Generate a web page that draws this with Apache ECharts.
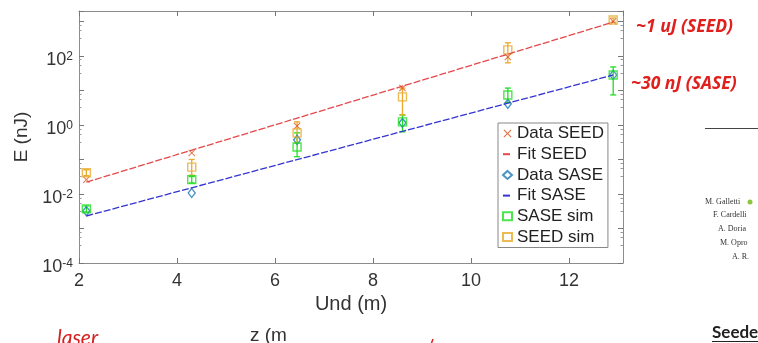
<!DOCTYPE html>
<html>
<head>
<meta charset="utf-8">
<script src="https://cdn.jsdelivr.net/npm/echarts@6/dist/echarts.min.js"></script>
<style>
  html, body { margin: 0; padding: 0; background: #fff; }
  #chart { width: 758px; height: 343px; }
</style>
</head>
<body>
<div id="chart"></div>
<script>
// undulator positions (m)
const zPos = [2.15, 4.3, 6.45, 8.6, 10.75, 12.9];
// measured energies (nJ)
const dataSeed = [0.026, 0.155, 0.93, 11.7, 93, 1000];
const dataSase = [0.0032, 0.0107, 0.37, 1.15, 4.1, 28];
// simulations with error bars
const saseSim = [0.0037, 0.026, 0.23, 1.23, 7.4, 28];
const saseSimLow = [0.003, 0.021, 0.12, 0.63, 4.4, 7.4];
const saseSimHigh = [0.0045, 0.032, 0.59, 1.95, 11.7, 48];
const seedSim = [0.041, 0.06, 0.59, 6.5, 150, 1100];
const seedSimLow = [0.034, 0.035, 0.30, 1.95, 63, 950];
const seedSimHigh = [0.05, 0.10, 1.23, 11.7, 240, 1250];
// exponential fits (end points)
const fitZ = [2.15, 12.9];
const fitSeed = [0.022, 950];
const fitSase = [0.0023, 28];

const legendNames = ['Data SEED', 'Fit SEED', 'Data SASE', 'Fit SASE', 'SASE sim', 'SEED sim'];

const C_XSEED = '#d95319';
const C_FITSEED = '#e5484a';
const C_DSASE = '#1f78b8';
const C_FITSASE = '#3434d0';
const C_SASESIM = '#1ee01e';
const C_SEEDSIM = '#e9aa2c';

const pairs = (xs, ys) => xs.map((x, i) => [x, ys[i]]);
const triples = (xs, lo, hi) => xs.map((x, i) => [x, lo[i], hi[i]]);

function errorBars(color) {
  return function (params, api) {
    const x = api.value(0);
    const lo = api.coord([x, api.value(1)]);
    const hi = api.coord([x, api.value(2)]);
    const cap = 3;
    const style = { stroke: color, lineWidth: 1.3 };
    return {
      type: 'group',
      children: [
        { type: 'line', shape: { x1: lo[0], y1: lo[1], x2: hi[0], y2: hi[1] }, style: style },
        { type: 'line', shape: { x1: lo[0] - cap, y1: lo[1], x2: lo[0] + cap, y2: lo[1] }, style: style },
        { type: 'line', shape: { x1: hi[0] - cap, y1: hi[1], x2: hi[0] + cap, y2: hi[1] }, style: style }
      ]
    };
  };
}

const crossPath = 'path://M0,1L1,0L5,4L9,0L10,1L6,5L10,9L9,10L5,6L1,10L0,9L4,5Z';

const axisGray = '#8c8c8c';
const labelColor = '#333';

// legend entries; the fit lines get no marker
const legendData = legendNames.map(function (n) {
  return n.indexOf('Fit') === 0 ? { name: n, itemStyle: { opacity: 0 } } : { name: n };
});

const chart = echarts.init(document.getElementById('chart'));

const option = {
  animation: false,
  backgroundColor: '#fff',
  textStyle: { fontFamily: 'Liberation Sans' },
  grid: { left: 79, top: 11, right: 135, bottom: 80 },
  legend: {
    data: legendData,
    orient: 'vertical',
    left: 498,
    top: 123,
    padding: [2, 4, 2, 4],
    itemGap: 3.7,
    itemWidth: 9,
    itemHeight: 8,
    backgroundColor: '#fff',
    borderColor: '#888',
    borderWidth: 1,
    borderRadius: 0,
    textStyle: { fontSize: 17, color: '#222', lineHeight: 17 }
  },
  xAxis: [
    {
      type: 'value',
      min: 2,
      max: 13.1,
      interval: 2,
      name: 'Und (m)',
      nameLocation: 'middle',
      nameGap: 31,
      nameTextStyle: { fontSize: 20, color: labelColor },
      axisLine: { onZero: false, lineStyle: { color: axisGray } },
      axisTick: { inside: true, length: 5, lineStyle: { color: '#777' } },
      axisLabel: { fontSize: 18, color: labelColor, margin: 9, showMaxLabel: false },
      splitLine: { show: false }
    },
    {
      type: 'value',
      position: 'top',
      min: 2,
      max: 13.1,
      interval: 2,
      axisLine: { onZero: false, lineStyle: { color: axisGray } },
      axisTick: { inside: true, length: 5, lineStyle: { color: '#777' } },
      axisLabel: { show: false },
      splitLine: { show: false }
    }
  ],
  yAxis: [
    {
      type: 'log',
      min: 0.0001,
      max: 2000,
      name: 'E (nJ)',
      nameLocation: 'middle',
      nameGap: 39,
      nameTextStyle: { fontSize: 19, color: labelColor },
      axisLine: { onZero: false, lineStyle: { color: axisGray } },
      axisTick: { inside: true, length: 5, lineStyle: { color: '#777' } },
      minorTick: { show: true, splitNumber: 4, length: 2.5, lineStyle: { color: '#999' } },
      axisLabel: {
        color: labelColor,
        margin: 6,
        padding: [8, 0, 0, 0],
        formatter: function (v) {
          const l = Math.log10(v);
          const e = Math.round(l);
          if (Math.abs(l - e) > 1e-6 || e % 2 !== 0) return '';
          return '{b|10}{sup|' + e + '}';
        },
        rich: {
          b: { fontSize: 18, lineHeight: 18, verticalAlign: 'top', color: labelColor },
          sup: { fontSize: 12, lineHeight: 12, verticalAlign: 'top', color: labelColor }
        }
      },
      splitLine: { show: false }
    },
    {
      type: 'log',
      position: 'right',
      min: 0.0001,
      max: 2000,
      axisLine: { onZero: false, lineStyle: { color: axisGray } },
      axisTick: { inside: true, length: 5, lineStyle: { color: '#777' } },
      minorTick: { show: true, splitNumber: 4, length: 2.5, lineStyle: { color: '#999' } },
      axisLabel: { show: false },
      splitLine: { show: false }
    }
  ],
  series: [
    {
      name: 'Data SEED',
      type: 'scatter',
      symbol: crossPath,
      symbolSize: 7,
      itemStyle: { color: C_XSEED },
      data: pairs(zPos, dataSeed)
    },
    {
      name: 'Fit SEED',
      type: 'line',
      symbol: 'none',
      lineStyle: { color: C_FITSEED, width: 1.3, type: [7, 2] },
      itemStyle: { color: C_FITSEED, opacity: 0 },
      data: pairs(fitZ, fitSeed)
    },
    {
      name: 'Data SASE',
      type: 'scatter',
      symbol: 'diamond',
      symbolSize: [7, 9],
      itemStyle: { color: 'rgba(0,0,0,0)', borderColor: C_DSASE, borderWidth: 1.4 },
      data: pairs(zPos, dataSase)
    },
    {
      name: 'Fit SASE',
      type: 'line',
      symbol: 'none',
      lineStyle: { color: C_FITSASE, width: 1.3, type: [7, 2] },
      itemStyle: { color: C_FITSASE, opacity: 0 },
      data: pairs(fitZ, fitSase)
    },
    {
      name: 'SASE sim err',
      type: 'custom',
      renderItem: errorBars(C_SASESIM),
      encode: { x: 0, y: [1, 2] },
      data: triples(zPos, saseSimLow, saseSimHigh)
    },
    {
      name: 'SASE sim',
      type: 'scatter',
      symbol: 'rect',
      symbolSize: 8,
      itemStyle: { color: 'rgba(0,0,0,0)', borderColor: C_SASESIM, borderWidth: 1.4 },
      data: pairs(zPos, saseSim)
    },
    {
      name: 'SEED sim err',
      type: 'custom',
      renderItem: errorBars(C_SEEDSIM),
      encode: { x: 0, y: [1, 2] },
      data: triples(zPos, seedSimLow, seedSimHigh)
    },
    {
      name: 'SEED sim',
      type: 'scatter',
      symbol: 'rect',
      symbolSize: 8,
      itemStyle: { color: 'rgba(0,0,0,0)', borderColor: C_SEEDSIM, borderWidth: 1.4 },
      data: pairs(zPos, seedSim)
    }
  ],
  graphic: [
    { type: 'text', left: 636, top: 18, style: { text: '~1 uJ (SEED)', font: 'italic bold 17.5px "Open Sans"', fill: '#e0201c' } },
    { type: 'text', left: 631, top: 75, style: { text: '~30 nJ (SASE)', font: 'italic bold 17.5px "Open Sans"', fill: '#e0201c' } },
    { type: 'line', shape: { x1: 705, y1: 128.5, x2: 758, y2: 128.5 }, style: { stroke: '#444', lineWidth: 1 } },
    { type: 'text', left: 705, top: 198, style: { text: 'M. Galletti', font: '8px "Liberation Serif"', fill: '#333' } },
    { type: 'circle', shape: { cx: 750, cy: 202, r: 2.5 }, style: { fill: '#8cc63f' } },
    { type: 'text', left: 713, top: 211, style: { text: 'F. Cardelli', font: '8px "Liberation Serif"', fill: '#333' } },
    { type: 'text', left: 718, top: 225, style: { text: 'A. Doria', font: '8px "Liberation Serif"', fill: '#333' } },
    { type: 'text', left: 720, top: 239, style: { text: 'M. Opro', font: '8px "Liberation Serif"', fill: '#333' } },
    { type: 'text', left: 732, top: 253, style: { text: 'A. R.', font: '8px "Liberation Serif"', fill: '#333' } },
    { type: 'text', left: 712, top: 324, style: { text: 'Seede', font: 'bold 17px Lato', fill: '#222' } },
    { type: 'line', shape: { x1: 712, y1: 341.5, x2: 758, y2: 341.5 }, style: { stroke: '#222', lineWidth: 1 } },
    { type: 'text', left: 57, top: 328, style: { text: 'laser', font: 'italic 21px Lato', fill: '#d42020' } },
    { type: 'text', left: 250, top: 326, style: { text: 'z (m', font: '19px "Liberation Sans"', fill: '#333' } },
    { type: 'line', shape: { x1: 433, y1: 339, x2: 431.5, y2: 343 }, style: { stroke: '#e02020', lineWidth: 1.5 } }
  ]
};

chart.setOption(option);
</script>
</body>
</html>
